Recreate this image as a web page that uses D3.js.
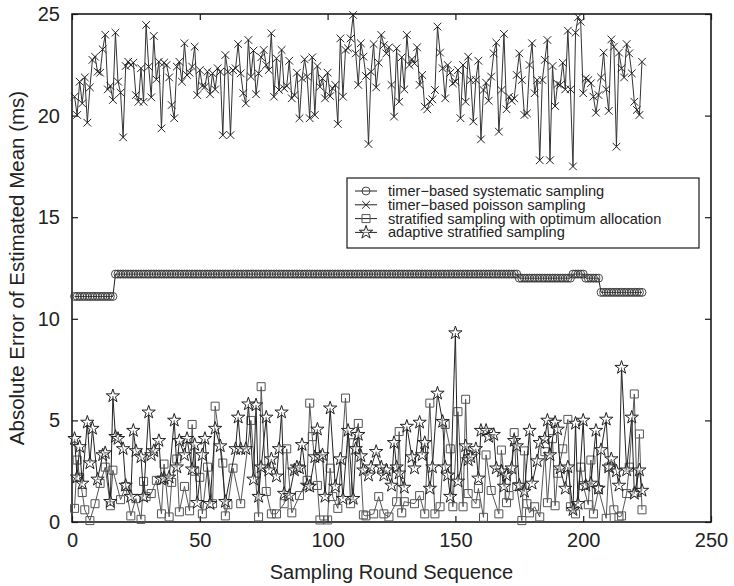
<!DOCTYPE html>
<html>
<head>
<meta charset="utf-8">
<script src="https://cdn.jsdelivr.net/npm/d3@7/dist/d3.min.js"></script>
<style>
  html, body { margin: 0; padding: 0; background: #fff; }
  svg { display: block; }
  text { font-family: "Liberation Sans", Arial, Helvetica, sans-serif; fill: #222; }
</style>
</head>
<body>
<svg id="chart" width="734" height="586"></svg>
<script>
// Error of the estimated mean per sampling round, four sampling schemes.
const xTicks = [0, 50, 100, 150, 200, 250];
const yTicks = [0, 5, 10, 15, 20, 25];

const seriesNames = [
  "timer\u2212based systematic sampling",
  "timer\u2212based poisson sampling",
  "stratified sampling with optimum allocation",
  "adaptive stratified sampling"
];

// timer-based systematic sampling, rounds 1..223
const systematic = [
  11.1,11.1,11.1,11.1,11.1,11.1,11.1,11.1,11.1,11.1,11.1,11.1,11.1,11.1,11.1,11.1,
  12.2,12.2,12.2,12.2,12.2,12.2,12.2,12.2,12.2,12.2,12.2,12.2,12.2,12.2,12.2,12.2,12.2,12.2,12.2,12.2,
  12.2,12.2,12.2,12.2,12.2,12.2,12.2,12.2,12.2,12.2,12.2,12.2,12.2,12.2,12.2,12.2,12.2,12.2,12.2,12.2,
  12.2,12.2,12.2,12.2,12.2,12.2,12.2,12.2,12.2,12.2,12.2,12.2,12.2,12.2,12.2,12.2,12.2,12.2,12.2,12.2,
  12.2,12.2,12.2,12.2,12.2,12.2,12.2,12.2,12.2,12.2,12.2,12.2,12.2,12.2,12.2,12.2,12.2,12.2,12.2,12.2,
  12.2,12.2,12.2,12.2,12.2,12.2,12.2,12.2,12.2,12.2,12.2,12.2,12.2,12.2,12.2,12.2,12.2,12.2,12.2,12.2,
  12.2,12.2,12.2,12.2,12.2,12.2,12.2,12.2,12.2,12.2,12.2,12.2,12.2,12.2,12.2,12.2,12.2,12.2,12.2,12.2,
  12.2,12.2,12.2,12.2,12.2,12.2,12.2,12.2,12.2,12.2,12.2,12.2,12.2,12.2,12.2,12.2,12.2,12.2,12.2,12.2,
  12.2,12.2,12.2,12.2,12.2,12.2,12.2,12.2,12.2,12.2,12.2,12.2,12.2,12.2,12.2,12.2,12.2,12.2,
  12.0,12.0,12.0,12.0,12.0,12.0,12.0,12.0,12.0,12.0,12.0,12.0,12.0,12.0,12.0,12.0,12.0,12.0,12.0,12.0,12.0,
  12.2,12.2,12.2,12.2,12.2,
  12.0,12.0,12.0,12.0,12.0,12.0,
  11.3,11.3,11.3,11.3,11.3,11.3,11.3,11.3,11.3,11.3,11.3,11.3,11.3,11.3,11.3,11.3,11.3
];

// timer-based poisson sampling, rounds 1..223
const poisson = [
  20.93,20.03,21.67,20.6,21.88,19.65,21.39,22.74,22.9,22.16,22.11,23.26,23.98,21.29,21.46,20.77,24.08,21.67,21.13,18.93,
  22.44,22.65,22.49,22.6,21.01,20.68,22.33,20.68,24.46,22.41,20.9,23.92,21.78,22.65,19.37,22.6,22.49,21.88,20.52,19.87,
  22.41,22.65,21.67,23.56,22.0,22.11,22.41,23.39,21.01,22.24,21.46,21.42,22.16,21.05,22.08,21.29,22.33,
  22.16,19.04,22.98,22.16,19.04,22.24,22.33,23.52,22.08,21.1,20.6,23.72,21.92,23.2,21.05,22.08,22.87,23.23,22.49,22.24,
  24.05,20.93,22.82,21.26,23.23,21.34,21.46,22.7,20.85,21.01,22.11,19.87,21.83,22.77,21.92,19.87,22.87,20.03,22.44,21.42,
  21.83,20.85,22.11,20.96,21.34,21.51,19.59,23.8,20.93,23.23,23.31,23.8,24.95,23.06,21.51,23.56,22.9,21.95,18.6,
  22.16,23.52,21.39,22.6,23.97,23.47,23.06,23.36,21.51,19.95,23.31,20.68,22.87,21.29,23.97,22.49,22.77,22.57,23.36,21.51,
  22.0,20.44,20.31,20.68,20.8,21.26,24.38,23.1,22.33,20.85,22.49,22.11,21.59,21.67,22.24,19.87,22.49,20.68,22.9,21.75,
  19.71,21.75,22.7,18.83,21.26,21.62,20.73,21.92,23.06,23.59,19.21,21.26,24.02,20.31,20.93,20.73,20.85,22.0,23.06,
  21.75,20.03,20.11,22.49,23.56,21.1,21.75,17.8,21.75,22.74,23.72,17.8,22.44,20.47,21.56,21.51,22.6,21.29,24.18,21.29,
  17.5,24.08,24.84,24.62,21.1,21.83,21.75,21.59,20.93,20.14,21.01,21.88,23.1,21.29,20.23,23.75,23.39,18.47,23.1,22.33,
  21.88,23.52,23.06,22.08,20.68,20.28,20.03,22.65
];

// stratified sampling with optimum allocation: round, error
const optimumRound = [1,2,3,4,5,7,9,11,13,15,16,19,21,23,25,27,28,29,31,33,35,36,38,39,41,42,44,46,47,48,50,51,53,55,56,
  59,60,61,63,66,70,73,74,76,78,80,83,84,86,89,92,93,94,96,97,100,101,102,104,107,109,110,112,114,
  115,118,120,122,124,127,128,129,130,134,136,138,140,142,144,146,148,149,151,153,154,155,158,159,161,162,164,167,168,170,171,173,174,
  176,177,178,179,181,183,185,186,188,189,190,192,194,195,197,199,200,202,203,204,206,209,210,212,214,215,217,218,220,221,222,223];
const optimum = [0.67,3.05,2.2,1.45,0.6,0.07,0.9,1.9,2.7,0.8,2.55,1.1,1.75,0.3,1.15,0.13,2.0,1.25,1.4,2.05,0.4,2.85,0.25,1.95,3.1,0.5,1.75,0.55,4.8,2.5,2.2,0.4,2.7,0.9,5.7,
  2.9,0.3,0.85,2.65,0.9,5.0,0.25,6.66,1.5,0.4,0.4,0.9,3.6,0.45,1.3,2.05,5.85,4.2,1.8,0.1,0.1,2.65,1.25,0.67,6.1,0.9,3.9,4.85,0.35,
  0.3,0.4,1.25,0.4,0.25,1.0,4.45,0.45,1.0,0.9,1.3,0.4,5.85,0.4,0.75,4.8,3.6,0.75,5.43,0.75,6.04,1.4,0.9,1.65,0.23,3.3,1.55,0.4,3.54,0.95,1.3,4.4,1.75,
  0.07,3.5,0.9,0.45,0.75,0.25,3.46,0.95,4.1,0.8,2.4,3.6,5.05,0.75,0.4,2.7,1.8,0.85,3.05,0.4,1.6,0.18,2.7,0.6,0.25,0.3,1.4,2.7,6.3,1.45,4.33,0.6];

// adaptive stratified sampling: round, error
const adaptiveRound = [1,2,3,4,6,7,8,10,12,13,15,16,17,18,20,21,23,24,25,27,28,30,31,32,34,35,36,38,40,41,42,44,45,47,48,49,51,52,54,56,
  58,60,64,65,66,68,69,71,72,73,74,76,77,78,80,81,82,83,85,87,88,89,90,92,93,95,96,97,98,99,101,103,105,106,108,110,111,112,113,114,
  116,117,119,121,122,123,125,126,127,128,130,131,133,134,136,137,138,140,141,143,145,146,147,148,150,151,154,155,156,158,159,160,162,163,165,166,168,169,170,172,173,174,
  175,177,179,180,182,183,185,186,187,189,190,191,193,194,196,197,198,200,201,203,205,206,207,209,210,211,213,214,215,217,219,220,222,223];
const adaptive = [4.1,2.2,3.7,1.9,4.9,2.9,4.6,2.1,3.3,3.4,1.0,6.2,4.2,4.1,3.6,1.8,1.25,4.5,3.5,3.2,1.25,5.4,3.3,3.5,4.0,2.1,2.15,2.2,5.0,2.7,4.0,3.3,4.1,2.6,3.8,0.95,3.3,4.1,0.9,4.6,
  3.74,1.0,3.6,5.15,3.6,3.6,5.8,2.1,5.75,1.25,2.7,5.15,2.55,3.1,2.25,3.6,5.4,1.4,1.3,2.55,2.7,2.65,3.8,1.8,1.75,3.2,4.56,3.2,3.3,1.25,5.6,1.75,3.1,1.15,4.5,1.15,3.6,4.3,3.25,2.55,
  2.3,2.7,3.46,2.7,2.3,2.55,1.8,3.9,2.7,2.4,1.7,4.7,3.2,2.65,4.9,3.3,3.9,1.65,2.7,6.33,4.94,2.7,2.3,1.25,9.3,2.0,3.74,3.05,3.2,3.6,2.15,4.5,4.5,4.2,4.3,2.65,2.5,1.75,2.3,2.65,4.0,3.74,
  1.8,1.5,4.5,1.9,3.0,3.9,4.1,5.0,3.3,4.9,4.56,2.65,1.65,2.7,0.6,4.85,0.9,5.0,1.8,1.9,4.5,1.65,3.55,5.05,2.7,3.1,2.5,1.8,7.6,2.55,5.15,1.4,2.55,1.55];

const rounds = d3.range(1, systematic.length + 1);

const svg = d3.select("#chart");
const margin = { left: 72, right: 23, top: 14, bottom: 64 };
const W = 734, H = 586;
const x = d3.scaleLinear().domain([0, 250]).range([margin.left, W - margin.right]);
const y = d3.scaleLinear().domain([0, 25]).range([H - margin.bottom, margin.top]);

const ink = "#1a1a1a";
const tickLen = 6;

// Axes with inward ticks on all four sides
const axisFont = "20px";
const gB = svg.append("g").attr("transform", `translate(0,${y(0)})`)
  .call(d3.axisBottom(x).tickValues(xTicks).tickSize(-tickLen).tickPadding(11).tickFormat(d3.format("d")));
const gT = svg.append("g").attr("transform", `translate(0,${y(25)})`)
  .call(d3.axisTop(x).tickValues(xTicks).tickSize(-tickLen).tickFormat(""));
const gL = svg.append("g").attr("transform", `translate(${x(0)},0)`)
  .call(d3.axisLeft(y).tickValues(yTicks).tickSize(-tickLen).tickPadding(12).tickFormat(d3.format("d")));
const gR = svg.append("g").attr("transform", `translate(${x(250)},0)`)
  .call(d3.axisRight(y).tickValues(yTicks).tickSize(-tickLen).tickFormat(""));
[gB, gT, gL, gR].forEach(g => {
  g.select(".domain").remove();
  g.selectAll(".tick line").attr("stroke", ink).attr("stroke-width", 1.2);
  g.selectAll(".tick text").attr("font-size", axisFont).attr("fill", "#222")
    .attr("font-family", "'Liberation Sans', Arial, sans-serif");
});

// Plot frame
svg.append("rect")
  .attr("x", x(0)).attr("y", y(25))
  .attr("width", x(250) - x(0)).attr("height", y(0) - y(25))
  .attr("fill", "none").attr("stroke", ink).attr("stroke-width", 1.6);

// Axis titles
svg.append("text")
  .attr("x", (x(0) + x(250)) / 2).attr("y", 579)
  .attr("text-anchor", "middle").attr("font-size", "20px")
  .text("Sampling Round Sequence");
svg.append("text")
  .attr("transform", `translate(24,${(y(0) + y(25)) / 2}) rotate(-90)`)
  .attr("text-anchor", "middle").attr("font-size", "20.5px")
  .text("Absolute Error of Estimated Mean (ms)");

const line = d3.line().x(d => x(d[0])).y(d => y(d[1]));
const plot = svg.append("g");

const star = d3.symbol().type(d3.symbolStar).size(55);
const cross = d3.symbol().type(d3.symbolX).size(40);
const sq = d3.symbol().type(d3.symbolSquare).size(64);

function drawSeries(xs, vs, color, width, marker) {
  const pts = xs.map((r, i) => [r, vs[i]]);
  plot.append("path").datum(pts)
    .attr("d", line).attr("fill", "none")
    .attr("stroke", color).attr("stroke-width", width);
  const g = plot.append("g");
  pts.forEach(p => marker(g, x(p[0]), y(p[1])));
}

const drawCircle = (g, cx, cy) => g.append("circle").attr("cx", cx).attr("cy", cy).attr("r", 4)
  .attr("fill", "none").attr("stroke", "#333").attr("stroke-width", 0.9);
const drawCross = (g, cx, cy) => g.append("path").attr("d", cross)
  .attr("transform", `translate(${cx},${cy})`).attr("fill", "none").attr("stroke", "#222").attr("stroke-width", 1);
const drawSquare = (g, cx, cy) => g.append("path").attr("d", sq)
  .attr("transform", `translate(${cx},${cy})`).attr("fill", "none").attr("stroke", "#555").attr("stroke-width", 1);
const drawStar = (g, cx, cy) => g.append("path").attr("d", star)
  .attr("transform", `translate(${cx},${cy})`).attr("fill", "#fff").attr("fill-opacity", 0.4).attr("stroke", "#222").attr("stroke-width", 1);

drawSeries(optimumRound, optimum, "#555", 1, drawSquare);
drawSeries(adaptiveRound, adaptive, "#222", 1, drawStar);
drawSeries(rounds, systematic, "#222", 1, drawCircle);
drawSeries(rounds, poisson, "#333", 1, drawCross);

// Legend
const lg = svg.append("g").attr("transform", "translate(347,178)");
lg.append("rect").attr("width", 352).attr("height", 70)
  .attr("fill", "#fff").attr("stroke", ink).attr("stroke-width", 1.2);
const markers = [drawCircle, drawCross, drawSquare, drawStar];
seriesNames.forEach((name, i) => {
  const ly = 13 + i * 13.8;
  lg.append("line").attr("x1", 8).attr("x2", 30).attr("y1", ly).attr("y2", ly)
    .attr("stroke", "#222").attr("stroke-width", 1);
  markers[i](lg, 19, ly);
  lg.append("text").attr("x", 41).attr("y", ly + 5)
    .attr("font-size", "14.6px").text(name);
});
</script>
</body>
</html>
